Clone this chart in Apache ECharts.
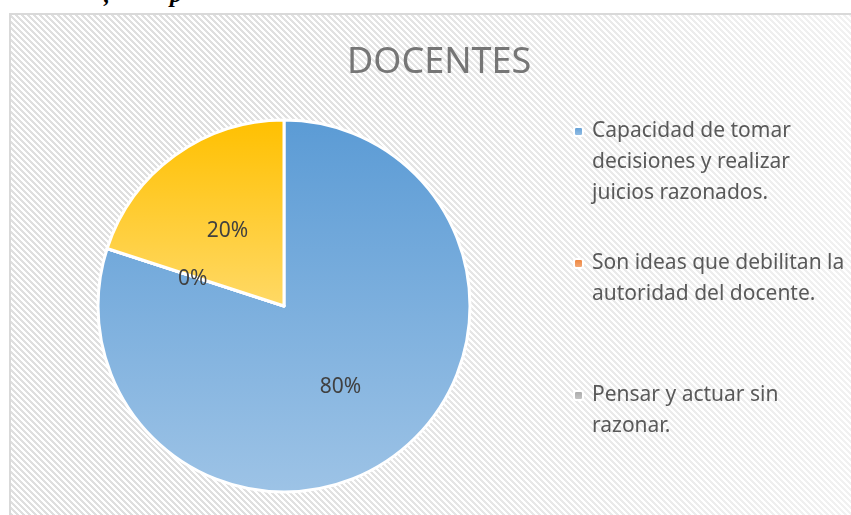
<!DOCTYPE html>
<html>
<head>
<meta charset="utf-8">
<script src="https://cdn.jsdelivr.net/npm/echarts@6/dist/echarts.min.js"></script>
<style>
  html, body { margin: 0; padding: 0; background: #fff; }
  #wrap { position: relative; width: 851px; height: 515px; overflow: hidden; }
  #frame {
    position: absolute; left: 9px; top: 13px; width: 870px; height: 530px;
    border: 2px solid #d9d9d9;
    background:
      linear-gradient(to right, rgba(255,255,255,0) 25%, rgba(255,255,255,0.6) 100%),
      repeating-linear-gradient(45deg, #dfdfdf 0 2.1px, #ffffff 2.1px 4.24px);
  }
  #cap {
    position: absolute; left: 104px; top: -19px; white-space: pre;
    font: italic bold 24px "Liberation Serif", serif; color: #000;
  }
  #main { position: absolute; left: 0; top: 0; width: 851px; height: 515px; }
</style>
</head>
<body>
<div id="wrap">
  <div id="frame"></div>
  <div id="cap">,          p</div>
  <div id="main"></div>
</div>
<script>
// data
const categories = [
  'Capacidad de tomar decisiones y realizar juicios razonados.',
  'Son ideas que debilitan la autoridad del docente.',
  'Pensar y actuar sin razonar.',
  'Otros'
];
const values = [80, 0, 0, 20];
// legend wrapping; leading blank lines keep the marker beside the first line
const legendLines = [
  '\n\nCapacidad de tomar\ndecisiones y realizar\njuicios razonados.',
  '\n\nSon ideas que debilitan la\nautoridad del docente.\n',
  '\n\nPensar y actuar sin\nrazonar.\n'
];
const colorsTop = ['#5b9bd5', '#ed7d31', '#a5a5a5', '#ffc000'];
const colorsBottom = ['#9dc3e6', '#f4b183', '#c9c9c9', '#ffd966'];

const chart = echarts.init(document.getElementById('main'));

chart.setOption({
  animation: false,
  backgroundColor: 'transparent',
  title: {
    text: 'DOCENTES',
    left: 347,
    top: 45,
    padding: 0,
    textStyle: {
      fontFamily: 'Noto Sans',
      fontSize: 36,
      fontWeight: 'normal',
      color: '#767676'
    }
  },
  legend: {
    orient: 'vertical',
    left: 573,
    top: 54,
    padding: 0,
    itemWidth: 9,
    itemHeight: 9,
    itemGap: -23,
    data: categories.slice(0, 3),
    formatter: (name) => legendLines[categories.indexOf(name)],
    textStyle: {
      fontFamily: 'Noto Sans',
      fontSize: 21,
      lineHeight: 31,
      color: '#595959',
      padding: [0, 0, 0, 4]
    }
  },
  series: [{
    type: 'pie',
    center: [284, 306],
    radius: 186,
    startAngle: 90,
    clockwise: true,
    avoidLabelOverlap: false,
    emphasis: { disabled: true },
    itemStyle: { borderColor: '#fff', borderWidth: 3 },
    label: {
      show: true,
      position: 'inside',
      offset: [0, 3],
      formatter: (p) => p.value + '%',
      fontFamily: 'Noto Sans',
      fontSize: 21,
      color: '#404040'
    },
    labelLine: { show: false },
    data: categories.map((name, i) => ({
      name: name,
      value: values[i],
      itemStyle: {
        color: new echarts.graphic.LinearGradient(0, 0, 0, 1, [
          { offset: 0, color: colorsTop[i] },
          { offset: 1, color: colorsBottom[i] }
        ])
      }
    }))
  }]
});
</script>
</body>
</html>
